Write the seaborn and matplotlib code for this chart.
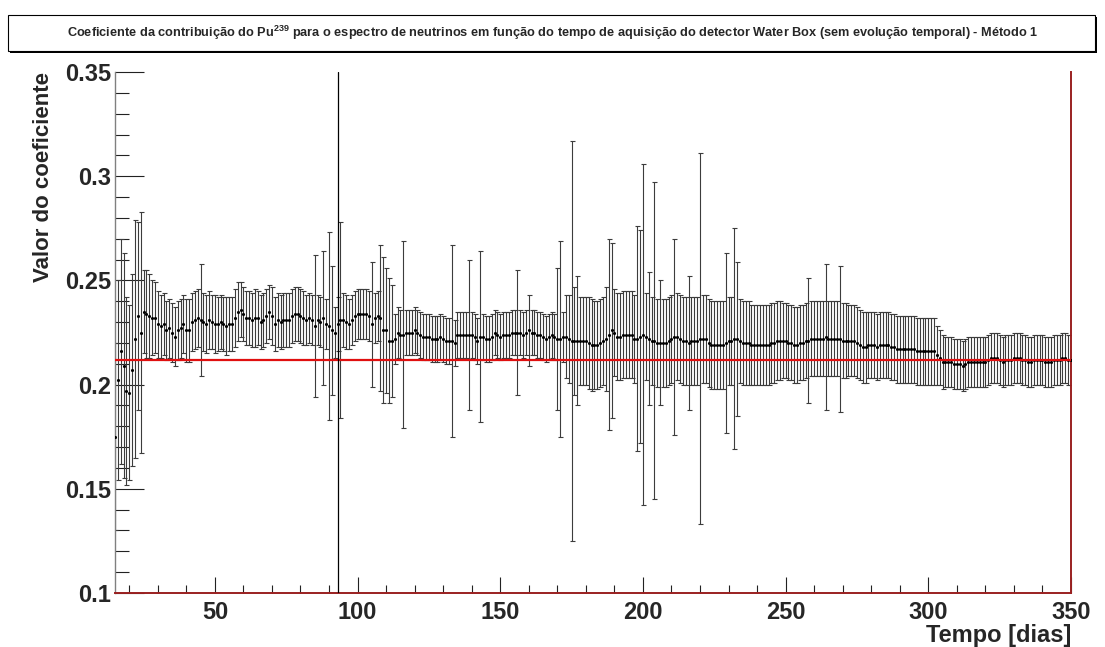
import matplotlib.pyplot as plt
import matplotlib as mpl
from matplotlib.patches import Rectangle
from matplotlib.ticker import FixedLocator, FixedFormatter, MultipleLocator
import numpy as np
import seaborn as sns

sns.set_style("white")
mpl.rcParams["font.family"] = ["Liberation Sans", "DejaVu Sans"]
mpl.rcParams["mathtext.fontset"] = "custom"
mpl.rcParams["mathtext.rm"] = "Liberation Sans:bold"
mpl.rcParams["mathtext.bf"] = "Liberation Sans:bold"
mpl.rcParams["mathtext.it"] = "Liberation Sans:bold"

# tempo de aquisição (dias)
days = list(range(15, 351))

# valor do coeficiente (um ponto por dia)
coef = [
    0.175, 0.202, 0.216, 0.209, 0.197, 0.196, 0.207, 0.222, 0.233, 0.225,
    0.235, 0.234, 0.233, 0.232, 0.232, 0.229, 0.228, 0.229, 0.226, 0.227,
    0.225, 0.223, 0.226, 0.227, 0.229, 0.226, 0.226, 0.230, 0.231, 0.232,
    0.231, 0.230, 0.229, 0.231, 0.230, 0.229, 0.229, 0.230, 0.229, 0.228,
    0.229, 0.229, 0.232, 0.235, 0.236, 0.234, 0.232, 0.232, 0.231, 0.232,
    0.232, 0.230, 0.231, 0.233, 0.235, 0.233, 0.229, 0.231, 0.230, 0.231,
    0.231, 0.231, 0.233, 0.234, 0.234, 0.233, 0.232, 0.231, 0.232, 0.231,
    0.228, 0.231, 0.230, 0.232, 0.229, 0.228, 0.226, 0.225, 0.229, 0.231,
    0.231, 0.230, 0.229, 0.231, 0.233, 0.234, 0.234, 0.234, 0.234, 0.233,
    0.229, 0.232, 0.233, 0.232, 0.226, 0.226, 0.221, 0.221, 0.222, 0.225,
    0.224, 0.224, 0.225, 0.225, 0.225, 0.226, 0.225, 0.224, 0.223, 0.223,
    0.223, 0.222, 0.222, 0.222, 0.223, 0.222, 0.221, 0.221, 0.221, 0.220,
    0.224, 0.224, 0.224, 0.224, 0.224, 0.224, 0.223, 0.221, 0.223, 0.223,
    0.222, 0.222, 0.223, 0.225, 0.224, 0.223, 0.224, 0.224, 0.224, 0.225,
    0.225, 0.225, 0.225, 0.224, 0.225, 0.226, 0.225, 0.225, 0.224, 0.224,
    0.223, 0.222, 0.223, 0.224, 0.223, 0.222, 0.222, 0.223, 0.223, 0.222,
    0.221, 0.221, 0.221, 0.221, 0.221, 0.221, 0.220, 0.219, 0.219, 0.219,
    0.220, 0.221, 0.222, 0.224, 0.226, 0.225, 0.223, 0.223, 0.224, 0.224,
    0.224, 0.224, 0.222, 0.222, 0.223, 0.224, 0.223, 0.222, 0.221, 0.221,
    0.220, 0.220, 0.220, 0.220, 0.221, 0.222, 0.223, 0.223, 0.222, 0.221,
    0.221, 0.220, 0.221, 0.221, 0.221, 0.222, 0.222, 0.222, 0.220, 0.219,
    0.219, 0.219, 0.219, 0.219, 0.220, 0.221, 0.221, 0.222, 0.222, 0.221,
    0.220, 0.220, 0.220, 0.219, 0.219, 0.219, 0.219, 0.219, 0.219, 0.219,
    0.220, 0.220, 0.221, 0.221, 0.221, 0.221, 0.220, 0.220, 0.219, 0.219,
    0.220, 0.220, 0.221, 0.221, 0.222, 0.222, 0.222, 0.222, 0.222, 0.223,
    0.222, 0.222, 0.222, 0.222, 0.222, 0.221, 0.221, 0.221, 0.221, 0.221,
    0.220, 0.219, 0.218, 0.218, 0.219, 0.219, 0.219, 0.218, 0.219, 0.219,
    0.219, 0.219, 0.218, 0.218, 0.217, 0.217, 0.217, 0.217, 0.217, 0.217,
    0.217, 0.216, 0.216, 0.216, 0.216, 0.216, 0.216, 0.216, 0.214, 0.213,
    0.211, 0.211, 0.211, 0.211, 0.210, 0.210, 0.210, 0.209, 0.210, 0.211,
    0.211, 0.211, 0.211, 0.211, 0.211, 0.211, 0.212, 0.213, 0.213, 0.213,
    0.212, 0.211, 0.212, 0.212, 0.212, 0.213, 0.213, 0.213, 0.212, 0.212,
    0.211, 0.211, 0.212, 0.212, 0.212, 0.212, 0.211, 0.211, 0.211, 0.212,
    0.212, 0.212, 0.213, 0.213, 0.212, 0.212,
]

# incerteza (meia largura da barra de erro)
erro = [
    0.045, 0.048, 0.054, 0.054, 0.045, 0.042, 0.046, 0.057, 0.045, 0.058,
    0.020, 0.021, 0.020, 0.018, 0.017, 0.016, 0.015, 0.015, 0.014, 0.014,
    0.014, 0.014, 0.014, 0.014, 0.014, 0.015, 0.015, 0.014, 0.014, 0.014,
    0.027, 0.014, 0.014, 0.014, 0.013, 0.014, 0.013, 0.013, 0.013, 0.014,
    0.013, 0.013, 0.014, 0.014, 0.013, 0.013, 0.013, 0.013, 0.013, 0.014,
    0.013, 0.013, 0.013, 0.013, 0.013, 0.014, 0.013, 0.013, 0.013, 0.013,
    0.013, 0.013, 0.013, 0.013, 0.013, 0.013, 0.013, 0.012, 0.012, 0.012,
    0.034, 0.012, 0.012, 0.032, 0.012, 0.045, 0.031, 0.012, 0.013, 0.047,
    0.013, 0.013, 0.012, 0.012, 0.012, 0.012, 0.012, 0.012, 0.012, 0.012,
    0.030, 0.012, 0.012, 0.035, 0.035, 0.030, 0.030, 0.027, 0.012, 0.012,
    0.012, 0.045, 0.011, 0.011, 0.011, 0.011, 0.011, 0.011, 0.011, 0.011,
    0.011, 0.011, 0.011, 0.011, 0.011, 0.011, 0.011, 0.011, 0.046, 0.011,
    0.011, 0.011, 0.011, 0.011, 0.036, 0.011, 0.011, 0.011, 0.041, 0.011,
    0.011, 0.011, 0.011, 0.011, 0.011, 0.011, 0.011, 0.011, 0.011, 0.011,
    0.011, 0.030, 0.011, 0.011, 0.011, 0.017, 0.011, 0.011, 0.011, 0.011,
    0.011, 0.011, 0.011, 0.011, 0.011, 0.034, 0.047, 0.012, 0.020, 0.021,
    0.096, 0.026, 0.031, 0.021, 0.021, 0.021, 0.022, 0.022, 0.021, 0.021,
    0.021, 0.021, 0.025, 0.046, 0.042, 0.021, 0.021, 0.021, 0.021, 0.021,
    0.021, 0.021, 0.021, 0.054, 0.051, 0.082, 0.021, 0.032, 0.021, 0.076,
    0.021, 0.030, 0.021, 0.021, 0.021, 0.021, 0.047, 0.021, 0.021, 0.021,
    0.021, 0.032, 0.021, 0.021, 0.021, 0.089, 0.021, 0.021, 0.021, 0.021,
    0.021, 0.021, 0.021, 0.021, 0.043, 0.021, 0.021, 0.053, 0.037, 0.020,
    0.020, 0.020, 0.020, 0.019, 0.019, 0.019, 0.019, 0.019, 0.019, 0.019,
    0.019, 0.019, 0.019, 0.019, 0.018, 0.018, 0.018, 0.018, 0.018, 0.018,
    0.018, 0.018, 0.018, 0.030, 0.018, 0.018, 0.018, 0.018, 0.018, 0.035,
    0.018, 0.018, 0.018, 0.018, 0.035, 0.018, 0.018, 0.017, 0.017, 0.017,
    0.017, 0.017, 0.017, 0.017, 0.016, 0.016, 0.016, 0.016, 0.016, 0.016,
    0.016, 0.016, 0.016, 0.016, 0.016, 0.016, 0.016, 0.016, 0.016, 0.016,
    0.016, 0.016, 0.016, 0.016, 0.016, 0.016, 0.016, 0.016, 0.014, 0.013,
    0.013, 0.012, 0.012, 0.012, 0.012, 0.012, 0.012, 0.012, 0.012, 0.012,
    0.012, 0.012, 0.012, 0.012, 0.012, 0.012, 0.012, 0.012, 0.012, 0.012,
    0.012, 0.012, 0.012, 0.012, 0.012, 0.012, 0.012, 0.012, 0.012, 0.012,
    0.012, 0.012, 0.012, 0.012, 0.012, 0.012, 0.012, 0.012, 0.012, 0.012,
    0.012, 0.012, 0.012, 0.012, 0.012, 0.012,
]

ajuste = 0.212          # valor ajustado (linha vermelha)
marcador_dia = 93       # linha vertical preta
y_ticks = [0.1, 0.15, 0.2, 0.25, 0.3, 0.35]
y_tick_labels = ["0.1", "0.15", "0.2", "0.25", "0.3", "0.35"]
x_ticks = [50, 100, 150, 200, 250, 300, 350]

titulo = ("Coeficiente da contribuição do Pu$^{239}$ para o espectro de neutrinos "
          "em função do tempo de aquisição do detector Water Box "
          "(sem evolução temporal) - Método 1")

W, H = 1105, 647
fig = plt.figure(figsize=(W / 100, H / 100), dpi=100)
ax = fig.add_axes([115 / W, 1 - 593 / H, (1071 - 115) / W, (593 - 72) / H])

# barras de erro + pontos
ax.errorbar(days, coef, yerr=erro, fmt="none", ecolor="#3c3c3c",
            elinewidth=0.8, capsize=1.8, capthick=0.8, zorder=2)
sns.scatterplot(x=days, y=coef, ax=ax, color="black", s=5, marker="o",
                linewidth=0, zorder=3)

ax.axhline(ajuste, color="#e01010", lw=1.6, zorder=4)
ax.axvline(marcador_dia, color="black", lw=0.9, zorder=4)

ax.set_xlim(15, 350)
ax.set_ylim(0.1, 0.35)

ax.xaxis.set_major_locator(FixedLocator(x_ticks))
ax.xaxis.set_minor_locator(MultipleLocator(10))
ax.yaxis.set_major_locator(FixedLocator(y_ticks))
ax.yaxis.set_major_formatter(FixedFormatter(y_tick_labels))
ax.yaxis.set_minor_locator(MultipleLocator(0.01))

ax.tick_params(axis="x", which="both", bottom=True, top=False)
ax.tick_params(axis="y", which="both", left=True, right=False)
ax.tick_params(axis="x", which="major", direction="in", length=11.2, width=0.8,
               color="#222222", labelsize=17, pad=6)
ax.tick_params(axis="x", which="minor", direction="in", length=5.6, width=0.8,
               color="#222222")
ax.tick_params(axis="y", which="major", direction="in", length=20.6, width=0.8,
               color="#222222", labelsize=17, pad=3)
ax.tick_params(axis="y", which="minor", direction="in", length=10.3, width=0.8,
               color="#222222")
for lab in ax.get_xticklabels() + ax.get_yticklabels():
    lab.set_fontweight("bold")

ax.spines["top"].set_visible(False)
ax.spines["left"].set_color("#808080")
ax.spines["left"].set_linewidth(1.0)
ax.spines["bottom"].set_color("#9a2020")
ax.spines["bottom"].set_linewidth(1.4)
ax.spines["right"].set_color("#9a2020")
ax.spines["right"].set_linewidth(1.4)

ax.set_xlabel("Tempo [dias]", loc="right", fontsize=17, fontweight="bold",
              labelpad=0)
ax.set_ylabel("Valor do coeficiente", loc="top", fontsize=16,
              fontweight="bold", labelpad=8)

# caixa do título com sombra
x0, y0, x1, y1 = 8, 15, 1095, 51
fig.patches.append(Rectangle((x0 / W + 2 / W, 1 - y1 / H - 2 / H),
                             (x1 - x0) / W, (y1 - y0) / H,
                             transform=fig.transFigure, facecolor="black",
                             edgecolor="none", zorder=0))
fig.patches.append(Rectangle((x0 / W, 1 - y1 / H), (x1 - x0) / W,
                             (y1 - y0) / H, transform=fig.transFigure,
                             facecolor="white", edgecolor="black",
                             linewidth=0.8, zorder=1))
fig.text(0.5, 1 - 33 / H, titulo, ha="center", va="center", fontsize=9.2,
         fontweight="bold", zorder=2)

fig.savefig("out.png", dpi=100, facecolor="white")
